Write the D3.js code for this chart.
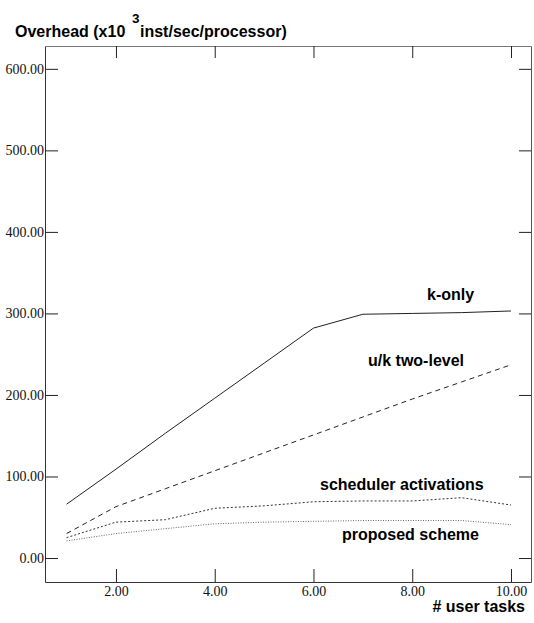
<!DOCTYPE html>
<html>
<head>
<meta charset="utf-8">
<script src="https://cdn.jsdelivr.net/npm/d3@7"></script>
<style>
  html, body { margin: 0; padding: 0; background: #fff; }
  svg { display: block; }
</style>
</head>
<body>
<svg id="chart" width="534" height="623"></svg>
<script>
// ---- data ----
const tasks = [1, 2, 3, 4, 5, 6, 7, 8, 9, 10];
const kOnly = [66, 109, 153, 196, 239, 282, 299, 300, 301, 303];
const ukTwoLevel = [30, 63, 85, 107, 129, 151, 173, 195, 216, 237];
const schedAct = [25, 44, 47, 61, 64, 69, 70, 70, 74, 65];
const proposed = [21, 30, 36, 42, 44, 45, 46, 46, 46, 41];
const yTicks = [0, 100, 200, 300, 400, 500, 600];
const xTicks = [2, 4, 6, 8, 10];
const seriesNames = ["k-only", "u/k two-level", "scheduler activations", "proposed scheme"];

// ---- layout ----
const L = 45, R = 531, T = 46, B = 582;
const svg = d3.select("#chart");
const x = d3.scaleLinear().domain([0.563, 10.405]).range([L, R]);
const y = d3.scaleLinear().domain([-29.4, 628]).range([B, T]);

const serif = "'Liberation Serif', 'Times New Roman', serif";
const sans = "'Liberation Sans', Arial, Helvetica, sans-serif";

// axes (ticks pointing inward)
const gL = svg.append("g").attr("transform", `translate(${L},0)`)
  .call(d3.axisLeft(y).tickValues(yTicks).tickFormat(d3.format(".2f"))
    .tickSizeInner(-13).tickSizeOuter(0).tickPadding(1));
const gB = svg.append("g").attr("transform", `translate(0,${B})`)
  .call(d3.axisBottom(x).tickValues(xTicks).tickFormat(d3.format(".2f"))
    .tickSizeInner(-13).tickSizeOuter(0).tickPadding(4));
const gT = svg.append("g").attr("transform", `translate(0,${T})`)
  .call(d3.axisTop(x).tickValues(xTicks).tickFormat("")
    .tickSizeInner(-12).tickSizeOuter(0));
const gR = svg.append("g").attr("transform", `translate(${R},0)`)
  .call(d3.axisRight(y).tickValues(yTicks).tickFormat("")
    .tickSizeInner(-12).tickSizeOuter(0));

[gL, gB, gT, gR].forEach(g => {
  g.selectAll(".domain").attr("stroke", "#333").attr("stroke-width", 1);
  g.selectAll(".tick line").attr("stroke", "#222").attr("stroke-width", 1);
  g.selectAll(".tick text").attr("fill", "#111")
    .style("font-family", serif).style("font-size", "14px");
});
gT.select(".domain").attr("stroke", "#777");
gR.select(".domain").attr("stroke", "#555");

// lines
const line = d3.line().x((d, i) => x(tasks[i])).y(d => y(d));
const styles = [
  { data: kOnly, dash: null, color: "#222", w: 1 },
  { data: ukTwoLevel, dash: "5,4", color: "#222", w: 1 },
  { data: schedAct, dash: "2,2", color: "#333", w: 1 },
  { data: proposed, dash: "1,1.5", color: "#666", w: 1 }
];
styles.forEach(s => {
  svg.append("path").datum(s.data)
    .attr("d", line)
    .attr("fill", "none")
    .attr("stroke", s.color)
    .attr("stroke-width", s.w)
    .attr("stroke-dasharray", s.dash);
});

// series labels
const labelPos = [[427, 300], [368, 366], [320, 490], [342, 540]];
seriesNames.forEach((n, i) => {
  svg.append("text").attr("x", labelPos[i][0]).attr("y", labelPos[i][1])
    .text(n)
    .style("font-family", sans).style("font-weight", "bold").style("font-size", "16px")
    .attr("fill", "#000");
});

// axis titles
const title = svg.append("g").style("font-family", sans).style("font-weight", "bold").attr("fill", "#000");
title.append("text").attr("x", 15).attr("y", 36.5).style("font-size", "16px").text("Overhead (x10");
title.append("text").attr("x", 132).attr("y", 23).style("font-size", "13.5px").text("3");
title.append("text").attr("x", 140).attr("y", 36.5).style("font-size", "16px").text("inst/sec/processor)");

svg.append("text").attr("x", 525).attr("y", 612).attr("text-anchor", "end")
  .style("font-family", sans).style("font-weight", "bold").style("font-size", "16px")
  .attr("fill", "#000").text("# user tasks");
</script>
</body>
</html>
